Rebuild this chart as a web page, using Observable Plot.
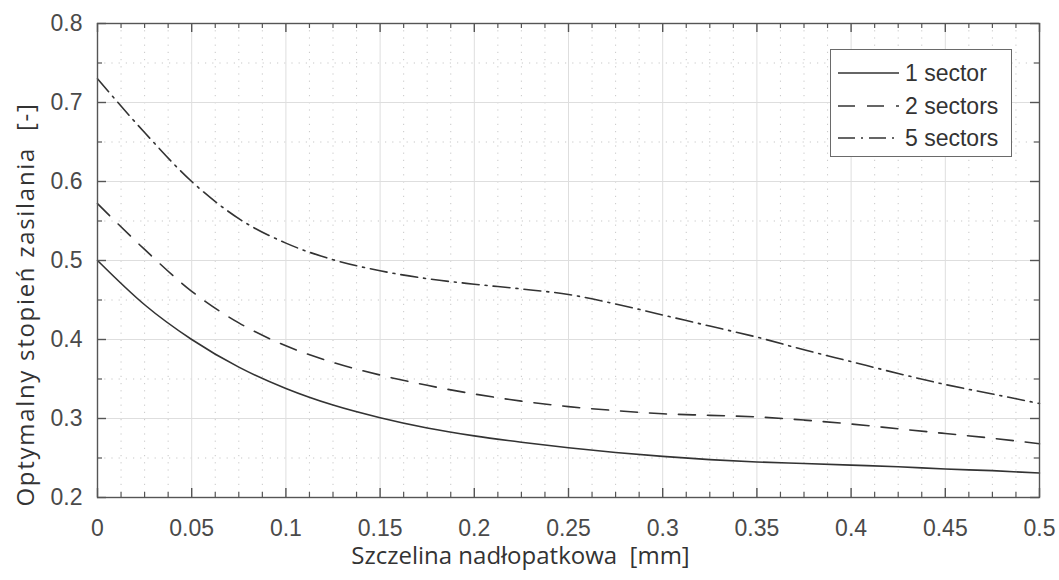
<!DOCTYPE html>
<html>
<head>
<meta charset="utf-8">
<script src="https://cdn.jsdelivr.net/npm/d3@7"></script>
<script src="https://cdn.jsdelivr.net/npm/@observablehq/plot@0.6"></script>
<style>
  html, body { margin: 0; padding: 0; background: #fff; }
  #wrap { position: relative; width: 1059px; height: 580px; }
  #legend {
    position: absolute; left: 830px; top: 49px; width: 182px; height: 108px;
    border: 1.5px solid #6a6a6a; background: #fff; box-sizing: border-box;
    font-family: "Liberation Sans", Arial, sans-serif; font-size: 23px; color: #333;
  }
  .row { position: absolute; left: 7px; height: 24px; display: flex; align-items: center; }
  .row svg { margin-right: 6px; }
</style>
</head>
<body>
<div id="wrap"><div id="legend"></div></div>
<script>
// ---- data ----
const gap = [0, 0.025, 0.05, 0.075, 0.1, 0.125, 0.15, 0.175, 0.2, 0.225, 0.25, 0.275, 0.3, 0.325, 0.35, 0.375, 0.4, 0.425, 0.45, 0.475, 0.5];
const sector1 = [0.500, 0.444, 0.400, 0.365, 0.338, 0.317, 0.301, 0.288, 0.278, 0.270, 0.263, 0.257, 0.252, 0.248, 0.245, 0.243, 0.241, 0.239, 0.236, 0.234, 0.231];
const sector2 = [0.572, 0.514, 0.461, 0.421, 0.392, 0.371, 0.355, 0.342, 0.331, 0.322, 0.315, 0.310, 0.306, 0.304, 0.302, 0.298, 0.293, 0.287, 0.281, 0.275, 0.268];
const sector5 = [0.730, 0.662, 0.600, 0.553, 0.522, 0.501, 0.487, 0.477, 0.470, 0.464, 0.457, 0.445, 0.431, 0.417, 0.403, 0.387, 0.372, 0.357, 0.343, 0.331, 0.319];
const seriesNames = ["1 sector", "2 sectors", "5 sectors"];
const seriesDash = ["none", "17,12", "17,6,2,6"];
const xTicks = [0, 0.05, 0.1, 0.15, 0.2, 0.25, 0.3, 0.35, 0.4, 0.45, 0.5];
const xTickLabels = ["0", "0.05", "0.1", "0.15", "0.2", "0.25", "0.3", "0.35", "0.4", "0.45", "0.5"];
const yTicks = [0.2, 0.3, 0.4, 0.5, 0.6, 0.7, 0.8];
const yTickLabels = ["0.2", "0.3", "0.4", "0.5", "0.6", "0.7", "0.8"];
const xMinor = d3.range(0, 41).map(i => i * 0.0125).filter(v => Math.abs(v / 0.05 - Math.round(v / 0.05)) > 1e-6);
const yMinor = [0.25, 0.35, 0.45, 0.55, 0.65, 0.75];
const xLabel = "Szczelina nadłopatkowa  [mm]";
const yLabel = "Optymalny stopień zasilania  [-]";

// ---- layout ----
const W = 1059, H = 580, mL = 97, mR = 20, mT = 23, mB = 83;
const PW = W - mL - mR, PH = H - mT - mB;
const axisColor = "#555";
const lineColor = "#333";
const tickFont = "Liberation Sans, Arial, sans-serif";
const labelFont = "Open Sans, Noto Sans, sans-serif";

const seriesValues = [sector1, sector2, sector5];
const rows = seriesValues.map((vals, s) => gap.map((g, i) => ({x: g, y: vals[i], s: seriesNames[s]})));

const fmtX = d => xTickLabels[xTicks.findIndex(t => Math.abs(t - d) < 1e-9)];
const fmtY = d => yTickLabels[yTicks.findIndex(t => Math.abs(t - d) < 1e-9)];

const chart = Plot.plot({
  width: W, height: H,
  marginLeft: mL, marginRight: mR, marginTop: mT, marginBottom: mB,
  style: {background: "transparent", overflow: "visible"},
  x: {domain: [0, 0.5], axis: null},
  y: {domain: [0.2, 0.8], axis: null},
  marks: [
    // minor dotted grid
    Plot.gridX(xMinor, {stroke: "#9a9a9a", strokeOpacity: 0.55, strokeDasharray: "1.2,6"}),
    Plot.gridY(yMinor, {stroke: "#9a9a9a", strokeOpacity: 0.55, strokeDasharray: "1.2,6"}),
    // major grid
    Plot.gridX(xTicks, {stroke: "#dedede", strokeOpacity: 1, strokeWidth: 1}),
    Plot.gridY(yTicks, {stroke: "#dedede", strokeOpacity: 1, strokeWidth: 1}),
    // curves
    ...rows.map((r, s) => Plot.line(r, {
      x: "x", y: "y", curve: "monotone-x",
      stroke: lineColor, strokeWidth: 1.6,
      strokeDasharray: seriesDash[s] === "none" ? null : seriesDash[s]
    })),
    // frame
    Plot.frame({stroke: axisColor, strokeWidth: 1.4}),
    // inward ticks (MATLAB style) on all four sides
    Plot.tickX(xTicks, {x: d => d, insetTop: PH - 9, stroke: axisColor, strokeWidth: 1.4}),
    Plot.tickX(xTicks, {x: d => d, insetBottom: PH - 9, stroke: axisColor, strokeWidth: 1.4}),
    Plot.tickX(xMinor, {x: d => d, insetTop: PH - 5, stroke: axisColor, strokeWidth: 1.2}),
    Plot.tickX(xMinor, {x: d => d, insetBottom: PH - 5, stroke: axisColor, strokeWidth: 1.2}),
    Plot.tickY(yTicks, {y: d => d, insetRight: PW - 9, stroke: axisColor, strokeWidth: 1.4}),
    Plot.tickY(yTicks, {y: d => d, insetLeft: PW - 9, stroke: axisColor, strokeWidth: 1.4}),
    Plot.tickY(yMinor, {y: d => d, insetRight: PW - 5, stroke: axisColor, strokeWidth: 1.2}),
    Plot.tickY(yMinor, {y: d => d, insetLeft: PW - 5, stroke: axisColor, strokeWidth: 1.2}),
    // tick labels
    Plot.axisX(xTicks, {anchor: "bottom", tickSize: 0, tickPadding: 22, tickFormat: fmtX,
      fontSize: 23, fontFamily: tickFont, fill: "#4a4a4a", label: null}),
    Plot.axisY(yTicks, {anchor: "left", tickSize: 0, tickPadding: 15, tickFormat: fmtY,
      fontSize: 23, fontFamily: tickFont, fill: "#4a4a4a", label: null}),
    // axis titles
    Plot.text([xLabel], {frameAnchor: "bottom", textAnchor: "middle", lineAnchor: "middle",
      dx: -48, dy: 59, fontSize: 24, fontFamily: labelFont, fill: "#333", text: d => d}),
    Plot.text([yLabel], {frameAnchor: "left", textAnchor: "middle", lineAnchor: "middle",
      rotate: -90, dx: -71, dy: 44, fontSize: 24, fontFamily: labelFont, fill: "#333", text: d => d})
  ]
});
document.getElementById("wrap").prepend(chart);
// the reference's y title is drawn with wider spacing than the x title
d3.select(chart).selectAll("text").filter(function() { return this.textContent === yLabel; })
  .style("letter-spacing", "1.7px");

// legend
const legend = document.getElementById("legend");
const rowTops = [11, 44, 76];
seriesNames.forEach((name, i) => {
  const row = document.createElement("div");
  row.className = "row";
  row.style.top = rowTops[i] + "px";
  const svg = d3.create("svg").attr("width", 61).attr("height", 10);
  svg.append("line").attr("x1", 0).attr("x2", 61).attr("y1", 5).attr("y2", 5)
    .attr("stroke", lineColor).attr("stroke-width", 1.6)
    .attr("stroke-dasharray", seriesDash[i] === "none" ? null : seriesDash[i]);
  row.appendChild(svg.node());
  const span = document.createElement("span");
  span.textContent = name;
  row.appendChild(span);
  legend.appendChild(row);
});
</script>
</body>
</html>
